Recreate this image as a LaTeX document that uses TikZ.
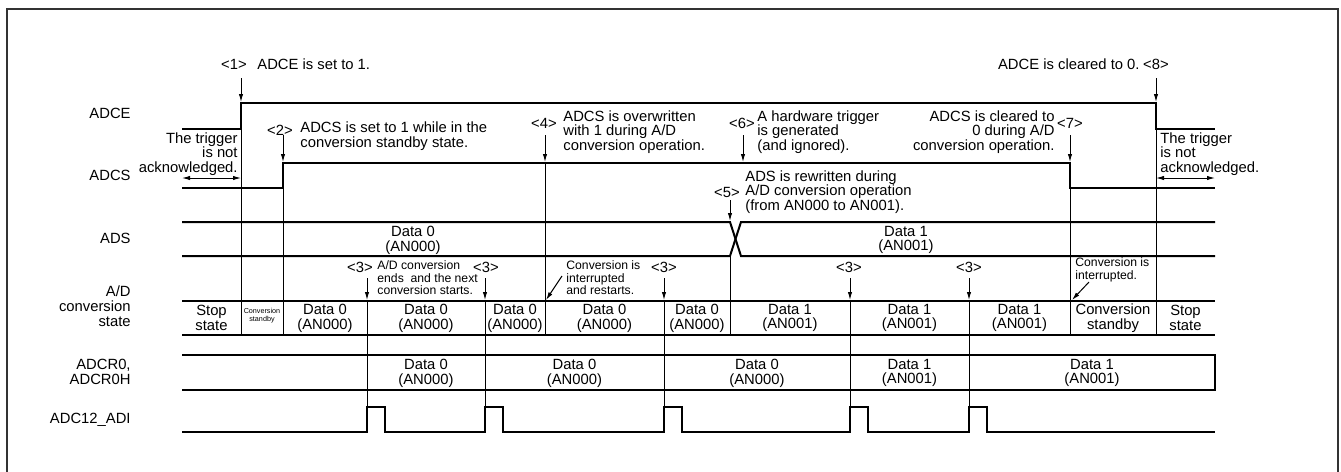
\documentclass[tikz,border=0pt]{standalone}
\usepackage{fontspec}
\setmainfont{Liberation Sans}
\usetikzlibrary{arrows.meta}

\begin{document}
\begin{tikzpicture}[
  x=0.5pt, y=-0.5pt,
  wave/.style={line width=1pt},
  guide/.style={line width=0.5pt},
  lbl/.style={inner sep=0pt, font=\fontsize{7.4}{7.4}\selectfont, align=center},
  note/.style={inner sep=0pt, font=\fontsize{6.1}{6.3}\selectfont, align=left, anchor=west},
  signame/.style={lbl, align=right, anchor=east},
  >={Latex[length=4pt,width=2.2pt]}
]
\useasboundingbox (0,0) rectangle (1341,472);

% Outer frame
\draw[line width=0.8pt, black!80] (7,472) -- (7,9) -- (1338,9) -- (1338,472);

% Signal names
\node[signame] (nadce) at (131,113) {ADCE};
\node[signame] (nadcs) at (131,175) {ADCS};
\node[signame] (nads) at (131,238) {ADS};
\node[signame] (nstate) at (131,306) {A/D\\conversion\\state};
\node[signame] (nadcr) at (131,372) {ADCR0,\\ADCR0H};
\node[signame] (nadi) at (131,420) {ADC12\_ADI};

% Waveforms
\draw[wave] (182,129) -- (241,129) -- (241,103) -- (1156,103) -- (1156,129) -- (1215,129);
\draw[wave] (182,188) -- (283,188) -- (283,163) -- (1070,163) -- (1070,188) -- (1215,188);
\draw[wave] (182,222) -- (730,222) -- (741,256) -- (1215,256);
\draw[wave] (182,256) -- (730,256) -- (741,222) -- (1215,222);
\draw[wave] (182,301) -- (1215,301) (182,335) -- (1215,335);
\draw[wave] (182,355) -- (1215,355) -- (1215,390) -- (182,390);
\draw[wave] (182,432) foreach \a in {367,485,664,850,969} { -- (\a,432) -- (\a,407) -- ({\a+17.5},407) -- ({\a+17.5},432) } -- (1215,432);

% Timing guides
\foreach \x/\y in {241/129, 283/188, 545/163, 730/256, 1070/188, 1156/129}
  \draw[guide] (\x,\y) -- (\x,335);
\foreach \x in {367,485,664,850,969}
  \draw[guide] (\x,301) -- (\x,407);

% ADS contents
\node[lbl] (ads0) at (413,240) {Data 0\\(AN000)};
\node[lbl] (ads1) at (906,240) {Data 1\\(AN001)};

% A/D conversion state contents
\foreach \c/\t [count=\i] in {211.5/{Stop\\state}, 325/{Data 0\\(AN000)}, 426/{Data 0\\(AN000)},
    515/{Data 0\\(AN000)}, 604.5/{Data 0\\(AN000)}, 697/{Data 0\\(AN000)}, 790/{Data 1\\(AN001)},
    909.5/{Data 1\\(AN001)}, 1019.5/{Data 1\\(AN001)}, 1113/{Conversion\\standby}, 1185.5/{Stop\\state}}
  \node[lbl] (st\i) at (\c,318) {\t};
\node[lbl, font=\fontsize{3.6}{4}\selectfont] (stby) at (262,316) {Conversion\\standby};

% ADCR0, ADCR0H contents
\foreach \c/\t [count=\i] in {426/{Data 0\\(AN000)}, 574.5/{Data 0\\(AN000)}, 757/{Data 0\\(AN000)},
    909.5/{Data 1\\(AN001)}, 1092/{Data 1\\(AN001)}}
  \node[lbl] (cr\i) at (\c,373) {\t};

% Event notes
\node[lbl] (m1) at (234,64) {<1>};
\node[lbl, anchor=west] (t1) at (257,64) {ADCE is set to 1.};
\node[lbl] (m2) at (280,130) {<2>};
\node[lbl, align=left, anchor=west] (t2) at (300,136) {ADCS is set to 1 while in the\\conversion standby state.};
\node[lbl] (m4) at (544,123) {<4>};
\node[lbl, align=left, anchor=west] (t4) at (563,132) {ADCS is overwritten\\with 1 during A/D\\conversion operation.};
\node[lbl] (m6) at (742,123) {<6>};
\node[lbl, align=left, anchor=west] (t6) at (757,132) {A hardware trigger\\is generated\\(and ignored).};
\node[lbl] (m5) at (727,192) {<5>};
\node[lbl, align=left, anchor=west] (t5) at (745,192) {ADS is rewritten during\\A/D conversion operation\\(from AN000 to AN001).};
\node[lbl] (m7) at (1070,123) {<7>};
\node[lbl, align=right, anchor=east] (t7) at (1055,132) {ADCS is cleared to\\0 during A/D\\conversion operation.};
\node[lbl] (m8) at (1156,64) {<8>};
\node[lbl, anchor=east] (t8) at (1140,64) {ADCE is cleared to 0.};
\node[lbl, align=right, anchor=east] (trigl) at (238,154) {The trigger\\is not\\acknowledged.};
\node[lbl, align=left, anchor=west] (trigr) at (1160,154) {The trigger\\is not\\acknowledged.};

% <3> conversion ends
\foreach \c [count=\i] in {360,486,664,849,969}
  \node[lbl] (m3\i) at (\c,267) {<3>};
\node[note] (n1) at (377,278) {A/D conversion\\ends~ and the next\\conversion starts.};
\node[note] (n2) at (566,278) {Conversion is\\interrupted\\and restarts.};
\node[note] (n3) at (1075,270) {Conversion is\\interrupted.};

% Arrows to the edges
\foreach \n/\x/\ya/\yb in {1/241/78/102, 2/283/135/162, 4/545/135/162, 6/743/135/162, 5/730/200/221,
    7/1070/135/162, 8/1156/78/102, 31/367/278/300, 32/485/278/300, 33/664/278/300, 34/850/278/300, 35/969/278/300} {
  \coordinate (p\n) at (\x,\ya);
  \coordinate (q\n) at (\x,\yb);
  \draw[guide, ->] (p\n) -- (q\n);
}
\coordinate (d1) at (562,276);
\coordinate (e1) at (546,300);
\coordinate (d2) at (1089,282);
\coordinate (e2) at (1072,300);
\draw[guide, ->] (d1) -- (e1);
\draw[guide, ->] (d2) -- (e2);

% Trigger not acknowledged spans
\coordinate (la) at (182,178);
\coordinate (lb) at (241,178);
\coordinate (ra) at (1156,178);
\coordinate (rb) at (1215,178);
\draw[guide, <->] (la) -- (lb);
\draw[guide, <->] (ra) -- (rb);

\end{tikzpicture}
\end{document}
